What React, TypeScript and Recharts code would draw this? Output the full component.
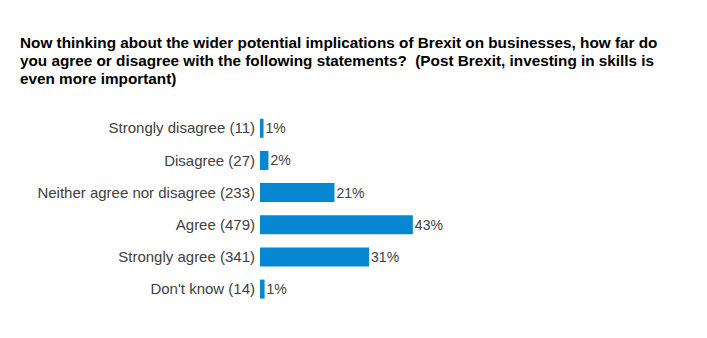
import React from "react";
import { BarChart, Bar, XAxis, YAxis, LabelList } from "recharts";

const categories = [
  "Strongly disagree (11)",
  "Disagree (27)",
  "Neither agree nor disagree (233)",
  "Agree (479)",
  "Strongly agree (341)",
  "Don't know (14)",
];
const shares = [1.0, 2.4, 21.1, 43.3, 30.9, 1.3];

const TITLE_LINES = [
  "Now thinking about the wider potential implications of Brexit on businesses, how far do",
  "you agree or disagree with the following statements?\u00a0 (Post Brexit, investing in skills is",
  "even more important)",
];

const data = categories.map((name, i) => ({ name, value: shares[i] }));

export default function App() {
  return (
    <div
      style={{
        position: "fixed",
        left: 0,
        top: 0,
        width: 707,
        height: 338,
        background: "#fff",
        fontFamily: "'Liberation Sans', Arial, sans-serif",
      }}
    >
      <div
        style={{
          position: "absolute",
          left: 20,
          top: 34,
          fontSize: 15.3,
          lineHeight: "18px",
          fontWeight: "bold",
          color: "#000",
          whiteSpace: "nowrap",
        }}
      >
        {TITLE_LINES.map((l) => (
          <div key={l}>{l}</div>
        ))}
      </div>
      <BarChart
        width={707}
        height={338}
        data={data}
        layout="vertical"
        margin={{ top: 112, right: 94, bottom: 33, left: 0 }}
        barCategoryGap="21%"
      >
        <XAxis type="number" domain={[0, 100]} hide />
        <YAxis
          type="category"
          dataKey="name"
          width={260}
          axisLine={false}
          tickLine={false}
          tickSize={0}
          tickMargin={5}
          interval={0}
          tick={{ fontSize: 15, fill: "#404040" }}
        />
        <Bar dataKey="value" fill="#0787d1" isAnimationActive={false}>
          <LabelList
            dataKey="value"
            position="right"
            offset={2}
            formatter={(v: number) => `${Math.round(v)}%`}
            style={{ fontSize: 14, fill: "#404040" }}
          />
        </Bar>
      </BarChart>
    </div>
  );
}
